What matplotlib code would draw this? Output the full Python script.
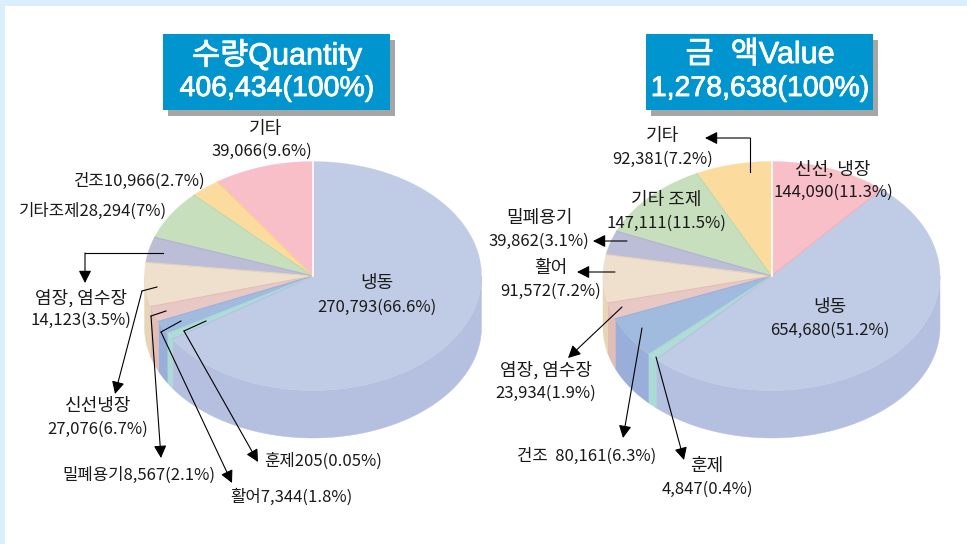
import numpy as np
import matplotlib
matplotlib.use('Agg')
import matplotlib.pyplot as plt
import matplotlib.patheffects as pe
from matplotlib.patches import Rectangle

plt.rcParams['font.family'] = ['Noto Sans CJK KR', 'DejaVu Sans']

W, H = 967, 544
DPI = 100

# ------ data ------------------------------------------------------------------

# drawn shares, clockwise from 12 o'clock

qty_names  = ['냉동', '훈제', '활어', '밀폐용기', '신선냉장', '염장, 염수장', '기타조제', '건조', '기타']
qty_values = [270793, 205, 7344, 8567, 27076, 14123, 28294, 10966, 39066]
qty_shares = [65.7, 0.9, 1.9, 2.2, 6.2, 3.6, 7.0, 2.9, 9.6]

val_names  = ['신선, 냉장', '냉동', '훈제', '건조', '염장, 염수장', '활어', '밀폐용기', '기타 조제', '기타']
val_values = [144090, 654680, 4847, 80161, 23934, 91572, 39862, 147111, 92381]
val_shares = [11.3, 50.7, 1.0, 5.9, 2.3, 6.8, 3.4, 11.3, 7.3]

qty_title = ['수량Quantity', '406,434(100%)']
val_title = ['금  액Value', '1,278,638(100%)']

# colours per category: top face, side face

C_FROZEN = ('#c0cce6', '#b5c0e0')
C_SMOKED = ('#b0dcd8', '#a9dad6')
C_BLUE   = ('#a1bbdf', '#99afda')
C_PINK   = ('#e8c8c4', '#e2bdb6')
C_BEIGE  = ('#eee0cc', '#e8d4b6')
C_LAV    = ('#bcbed8', '#b0b2d0')
C_GREEN  = ('#c8dfbe', '#bcd8b0')
C_YELLOW = ('#fcdc9e', '#f8d08e')
C_ROSE   = ('#f8bfc8', '#f0b0bc')

qty_colors = [C_FROZEN, C_SMOKED, C_BLUE, C_PINK, C_BEIGE, C_LAV, C_GREEN, C_YELLOW, C_ROSE]
val_colors = [C_ROSE, C_FROZEN, C_SMOKED, C_BLUE, C_PINK, C_BEIGE, C_LAV, C_GREEN, C_YELLOW]

# ------ helpers ---------------------------------------------------------------

def pie_3d(ax, cx, cy, shares, colors, rx=168.5, ry=114.5, bottom_drop=51, bottom_ry=111):
    edges = np.cumsum([0] + list(shares))
    edges = edges / edges[-1] * 2 * np.pi

    # side faces first, only the lower half of the disc shows them
    for a0, a1, col in zip(edges[:-1], edges[1:], colors):
        lo, hi = max(a0, np.pi / 2), min(a1, 3 * np.pi / 2)
        if hi <= lo:
            continue
        t = np.linspace(lo, hi, 80)
        x = cx + rx * np.sin(t)
        top = cy - ry * np.cos(t)
        bot = cy + bottom_drop - bottom_ry * np.cos(t)
        ax.fill(np.r_[x, x[::-1]], np.r_[top, bot[::-1]], color=col[1], lw=0.3, zorder=2)

    # top faces, darker line only on the radial edge
    for a0, a1, col in zip(edges[:-1], edges[1:], colors):
        t = np.linspace(a0, a1, 120)
        x = np.r_[cx, cx + rx * np.sin(t)]
        y = np.r_[cy, cy - ry * np.cos(t)]
        ax.fill(x, y, color=col[0], lw=0.2, zorder=3)
        ax.plot([cx, x[-1]], [cy, y[-1]], color=col[1], lw=0.8, zorder=4)

    ax.plot([cx, cx], [cy, cy - ry], color='white', lw=1.2, zorder=5)


def label(ax, x, y, s, size=12):
    ax.text(x, y, s, ha='center', va='center', fontsize=size, color='#1a1a1a', zorder=8)


def name_label(ax, x, y, s):
    label(ax, x, y, s, size=13)


def pct_label(value, pct):
    return '{:,}({}%)'.format(value, pct)


def arrow(ax, pts):
    xs = [p[0] for p in pts]
    ys = [p[1] for p in pts]
    ax.plot(xs[:-1], ys[:-1], color='black', lw=0.8, zorder=6, solid_joinstyle='miter')
    ax.annotate('', xy=pts[-1], xytext=pts[-2], zorder=6,
                arrowprops=dict(arrowstyle='-|>,head_length=0.75,head_width=0.38', mutation_scale=10,
                                color='black', lw=0.8, shrinkA=0, shrinkB=0))


def title_box(ax, x0, lines):
    ax.add_patch(Rectangle((x0 + 5, 40), 227, 76, color='#a6a6a6', lw=0, zorder=1))
    ax.add_patch(Rectangle((x0, 34), 227, 76, color='#0095cf', lw=0, zorder=2))
    fam = ['Liberation Sans', 'Noto Sans CJK KR']
    stroke = [pe.withStroke(linewidth=0.6, foreground='white')]
    ax.text(x0 + 114, 55, lines[0], ha='center', va='center', color='white', fontsize=22, family=fam,
            zorder=3, path_effects=stroke)
    ax.text(x0 + 114, 89, lines[1], ha='center', va='center', color='white', fontsize=20.5, family=fam,
            zorder=3, path_effects=stroke)


# ------ figure ----------------------------------------------------------------

fig = plt.figure(figsize=(W / DPI, H / DPI), dpi=DPI)
ax = fig.add_axes([0, 0, 1, 1])
ax.set_xlim(0, W)
ax.set_ylim(H, 0)
ax.axis('off')

# light blue frame top and left
ax.add_patch(Rectangle((0, 0), W, 6, color='#dbeefc', lw=0))
ax.add_patch(Rectangle((0, 0), 5, H, color='#dbeefc', lw=0))

title_box(ax, 163, qty_title)
title_box(ax, 646, val_title)

# ------ quantity pie ----------------------------------------------------------

pie_3d(ax, 313, 276, qty_shares, qty_colors)

name_label(ax, 266, 129, qty_names[8])
label(ax, 262, 151, pct_label(qty_values[8], 9.6))
label(ax, 140, 181, qty_names[7] + pct_label(qty_values[7], 2.7))
label(ax, 93, 211, qty_names[6] + pct_label(qty_values[6], 7))
name_label(ax, 81, 298, qty_names[5])
label(ax, 81, 320, pct_label(qty_values[5], 3.5))
name_label(ax, 377, 283, qty_names[0])
label(ax, 377, 307, pct_label(qty_values[0], 66.6))
name_label(ax, 98, 406, qty_names[4])
label(ax, 98, 429, pct_label(qty_values[4], 6.7))
label(ax, 139, 475, qty_names[3] + pct_label(qty_values[3], 2.1))
label(ax, 323, 461, qty_names[1] + pct_label(qty_values[1], 0.05))
label(ax, 291, 497, qty_names[2] + pct_label(qty_values[2], 1.8))

arrow(ax, [(163, 253), (85, 253), (85, 283)])
arrow(ax, [(157, 287), (142, 291), (115, 394)])
arrow(ax, [(166, 311), (151, 316), (161, 458)])
arrow(ax, [(181, 321), (161, 332), (232, 483)])
arrow(ax, [(206, 321), (184, 331), (258, 462)])

# ------ value pie -------------------------------------------------------------

pie_3d(ax, 771.5, 276, val_shares, val_colors)

name_label(ax, 663, 136, val_names[8])
label(ax, 663, 159, pct_label(val_values[8], 7.2))
name_label(ax, 833, 169, val_names[0])
label(ax, 833, 192, pct_label(val_values[0], 11.3))
name_label(ax, 666, 200, val_names[7])
label(ax, 666, 223, pct_label(val_values[7], 11.5))
name_label(ax, 539, 218, val_names[6])
label(ax, 539, 241, pct_label(val_values[6], 3.1))
name_label(ax, 551, 268, val_names[5])
label(ax, 551, 291, pct_label(val_values[5], 7.2))
name_label(ax, 830, 307, val_names[1])
label(ax, 830, 330, pct_label(val_values[1], 51.2))
name_label(ax, 546, 370, val_names[4])
label(ax, 546, 393, pct_label(val_values[4], 1.9))
label(ax, 587, 456, val_names[3] + '  ' + pct_label(val_values[3], 6.3))
name_label(ax, 707, 466, val_names[2])
label(ax, 707, 489, pct_label(val_values[2], 0.4))

arrow(ax, [(750, 172), (750, 138), (705, 138)])
arrow(ax, [(627, 241), (593, 241)])
arrow(ax, [(615, 272), (577, 272)])
arrow(ax, [(622, 307), (568, 358)])
arrow(ax, [(642, 328), (623, 438)])
arrow(ax, [(656, 357), (684, 460)])

fig.savefig('out.png', dpi=DPI)
plt.close(fig)
